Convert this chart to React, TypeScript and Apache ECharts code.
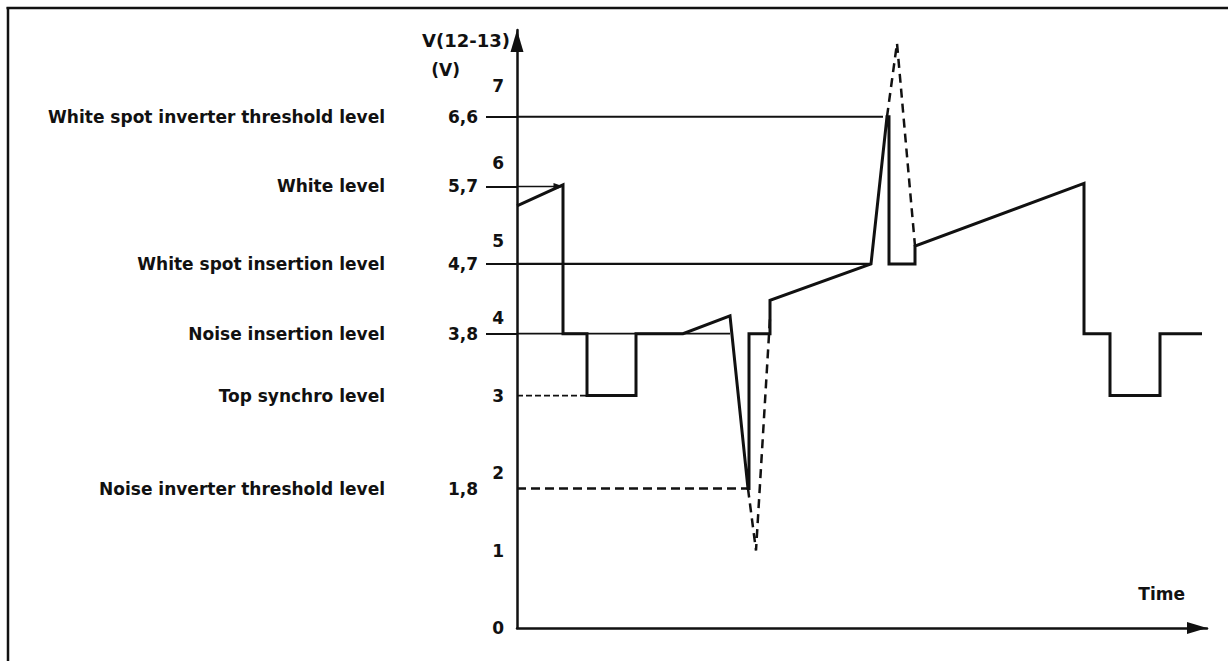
import React, { useEffect, useRef } from "react";
import * as echarts from "echarts";

// Time axis in arbitrary units (0 .. 69), voltage V(12-13) in volts
const signalTime = [0, 4.6, 4.6, 7.0, 7.0, 11.9, 11.9, 16.6, 21.3, 23.1, 23.2, 23.2, 25.3, 25.3, 35.4, 37.0, 37.2, 37.2, 39.8, 39.8, 56.7, 56.7, 59.3, 59.3, 64.3, 64.3, 68.5];
const signalVolt = [5.45, 5.72, 3.8, 3.8, 3.0, 3.0, 3.8, 3.8, 4.03, 1.8, 1.8, 3.8, 3.8, 4.23, 4.7, 6.6, 6.6, 4.7, 4.7, 4.93, 5.74, 3.8, 3.8, 3.0, 3.0, 3.8, 3.8];

const noiseDashTime = [23.1, 23.9, 25.3];
const noiseDashVolt = [1.8, 1.0, 4.0];

const spotDashTime = [37.0, 38.0, 39.8];
const spotDashVolt = [6.6, 7.55, 4.93];

const levelValues = [6.6, 5.7, 4.7, 3.8, 3.0, 1.8];
const levelNames = [
  "White spot inverter threshold level",
  "White level",
  "White spot insertion level",
  "Noise insertion level",
  "Top synchro level",
  "Noise inverter threshold level",
];
const levelNumbers = ["6,6", "5,7", "4,7", "3,8", " ", "1,8"];
const levelLineEnd = [36.6, 4.15, 35.4, 21.3, 7.0, 23.1];
const tickedLevels = [6.6, 5.7, 4.7, 3.8];

const yMin = 0;
const yMax = 7.72;
const xMin = 0;
const xMax = 69;

const FONT = "DejaVu Sans";
const INK = "#111111";

export default function App() {
  const ref = useRef<HTMLDivElement>(null);

  useEffect(() => {
    const chart = echarts.init(ref.current!, null, { renderer: "svg" });

    const levelLabel = (v: number) => {
      const i = levelValues.findIndex((x) => Math.abs(x - v) < 1e-6);
      if (i < 0) return "";
      return `{d|${levelNames[i]}}{n|${levelNumbers[i]}}`;
    };

    const levelStyle = (v: number, i: number) => {
      if (Math.abs(v - 3.0) < 1e-6) return { width: 1.8, type: [6, 3] as any };
      if (Math.abs(v - 1.8) < 1e-6) return { width: 2.5, type: [9, 5] as any };
      if (i === 0 || i === 2) return { width: 2.2, type: "solid" as any };
      return { width: 1.6, type: "solid" as any };
    };

    const levelSeries = levelValues.map((v, i) => {
      const isWhite = Math.abs(v - 5.7) < 1e-6;
      return {
        type: "line",
        name: levelNames[i],
        silent: true,
        z: 2,
        showSymbol: isWhite,
        symbol: "none",
        data: isWhite
          ? [
              { value: [0, v], symbol: "none" },
              { value: [levelLineEnd[i], v], symbol: "triangle", symbolSize: [7, 10], symbolRotate: -90 },
            ]
          : [
              [0, v],
              [levelLineEnd[i], v],
            ],
        itemStyle: { color: INK },
        lineStyle: { color: INK, ...levelStyle(v, i) },
      };
    });

    const textBase = { fontFamily: FONT, fontWeight: "bold", fontSize: 17, color: INK };

    chart.setOption({
      animation: false,
      backgroundColor: "#ffffff",
      grid: { left: 517, top: 30, width: 690, height: 598, containLabel: false },
      xAxis: {
        type: "value",
        min: xMin,
        max: xMax,
        name: "Time",
        nameLocation: "end",
        nameGap: -22,
        nameTextStyle: { ...textBase, align: "right", verticalAlign: "bottom", padding: [0, 0, 26, 0] },
        axisLine: {
          show: true,
          onZero: false,
          symbol: ["none", "triangle"],
          symbolSize: [12, 20],
          symbolOffset: [0, -10],
          lineStyle: { color: INK, width: 2.5 },
        },
        axisTick: { show: false },
        axisLabel: { show: false },
        splitLine: { show: false },
      },
      yAxis: [
        {
          type: "value",
          min: yMin,
          max: yMax,
          interval: 1,
          position: "left",
          name: "V(12-13)",
          nameLocation: "end",
          nameGap: -10,
          nameTextStyle: { ...textBase, fontSize: 18, align: "right", verticalAlign: "middle", padding: [0, 7, 0, 0] },
          axisLine: {
            show: true,
            onZero: false,
            symbol: ["none", "triangle"],
            symbolSize: [13, 22],
            symbolOffset: [0, -11],
            lineStyle: { color: INK, width: 2.5 },
          },
          axisTick: { show: false },
          axisLabel: {
            ...textBase,
            margin: 13,
            formatter: (v: number) => (Math.abs(v - Math.round(v)) < 1e-6 ? String(Math.round(v)) : ""),
          },
          splitLine: { show: false },
        },
        {
          type: "value",
          min: yMin,
          max: yMax,
          position: "left",
          name: "(V)",
          nameLocation: "end",
          nameGap: -40,
          nameTextStyle: { ...textBase, align: "right", verticalAlign: "middle", padding: [0, 57, 0, 0] },
          axisLine: { show: false },
          axisTick: {
            show: true,
            customValues: tickedLevels,
            length: 31,
            inside: false,
            lineStyle: { color: INK, width: 2 },
          },
          axisLabel: {
            show: true,
            customValues: levelValues,
            margin: 39,
            formatter: levelLabel,
            rich: {
              d: { ...textBase },
              n: { ...textBase, width: 93, align: "right" },
            },
          },
          splitLine: { show: false },
        },
      ],
      graphic: [
        { type: "line", shape: { x1: 6.5, y1: 8, x2: 1228, y2: 8 }, style: { stroke: INK, lineWidth: 2.5 }, silent: true },
        { type: "line", shape: { x1: 8, y1: 7, x2: 8, y2: 661 }, style: { stroke: INK, lineWidth: 2.5 }, silent: true },
      ],
      series: [
        ...levelSeries,
        {
          type: "line",
          name: "signal",
          silent: true,
          z: 4,
          clip: false,
          showSymbol: false,
          symbol: "none",
          data: signalTime.map((t, i) => [t, signalVolt[i]]),
          lineStyle: { color: INK, width: 3, join: "miter", miterLimit: 4 },
        },
        {
          type: "line",
          name: "noise without inversion",
          silent: true,
          z: 3,
          showSymbol: false,
          symbol: "none",
          data: noiseDashTime.map((t, i) => [t, noiseDashVolt[i]]),
          lineStyle: { color: INK, width: 2.5, type: [9, 6] },
        },
        {
          type: "line",
          name: "white spot without inversion",
          silent: true,
          z: 3,
          showSymbol: false,
          symbol: "none",
          data: spotDashTime.map((t, i) => [t, spotDashVolt[i]]),
          lineStyle: { color: INK, width: 2.5, type: [9, 6] },
        },
      ],
    });

    return () => chart.dispose();
  }, []);

  return (
    <div
      ref={ref}
      style={{ position: "absolute", left: 0, top: 0, width: 1228, height: 661, background: "#ffffff" }}
    />
  );
}
